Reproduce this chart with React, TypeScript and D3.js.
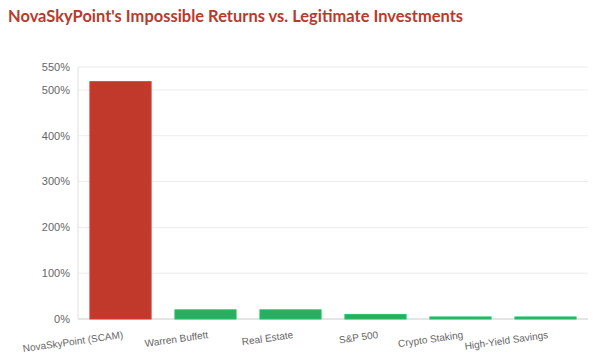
import React from "react";
import * as d3 from "d3";

const categories = ["NovaSkyPoint (SCAM)", "Warren Buffett", "Real Estate", "S&P 500", "Crypto Staking", "High-Yield Savings"];
const returns = [518, 20, 20, 10, 4.5, 4.5];
const barColors = ["#c0392b", "#27ae60", "#27ae60", "#27ae60", "#27ae60", "#27ae60"];
const yTicks = [0, 100, 200, 300, 400, 500, 550];

export default function App() {
  const W = 593, H = 358;
  const left = 78, right = 588, top = 67, bottom = 319;
  const x = d3.scaleBand<string>().domain(categories).range([left, right]).paddingInner(0.28).paddingOuter(0.14);
  const y = d3.scaleLinear().domain([0, 550]).range([bottom, top]);
  return (
    <svg width={W} height={H} style={{ position: "absolute", left: 0, top: 0, background: "#fff" }}>
      <text x={8} y={22} fill="#b83a2e" fontFamily="Lato, 'Open Sans', sans-serif" fontWeight="bold" fontSize={17.5} textLength={455} lengthAdjust="spacingAndGlyphs">
        NovaSkyPoint's Impossible Returns vs. Legitimate Investments
      </text>
      {yTicks.map((t) => (
        <g key={t}>
          <line x1={left} x2={right} y1={y(t)} y2={y(t)} stroke={t === 0 ? "#ccc" : "#ececec"} strokeWidth={1} />
          <text x={left - 8} y={y(t)} dy="0.35em" textAnchor="end" fontFamily="'Liberation Sans', Arial, sans-serif" fontSize={11} fill="#666">
            {t}%
          </text>
        </g>
      ))}
      <line x1={left} x2={left} y1={top} y2={bottom} stroke="#e0e0e0" />
      {categories.map((c, i) => (
        <rect key={c} x={x(c)!} width={x.bandwidth()} y={y(returns[i])} height={bottom - y(returns[i])} fill={barColors[i]} stroke={d3.color(barColors[i])!.brighter(0.3).toString()} strokeWidth={1} />
      ))}
      {categories.map((c) => {
        const cx = x(c)! + x.bandwidth() / 2 + 3;
        const cy = bottom + 19;
        return (
          <text key={c} x={cx} y={cy} transform={`rotate(-8 ${cx} ${cy})`} textAnchor="end" fontFamily="'Liberation Sans', Arial, sans-serif" fontSize={10} fill="#666">
            {c}
          </text>
        );
      })}
    </svg>
  );
}
